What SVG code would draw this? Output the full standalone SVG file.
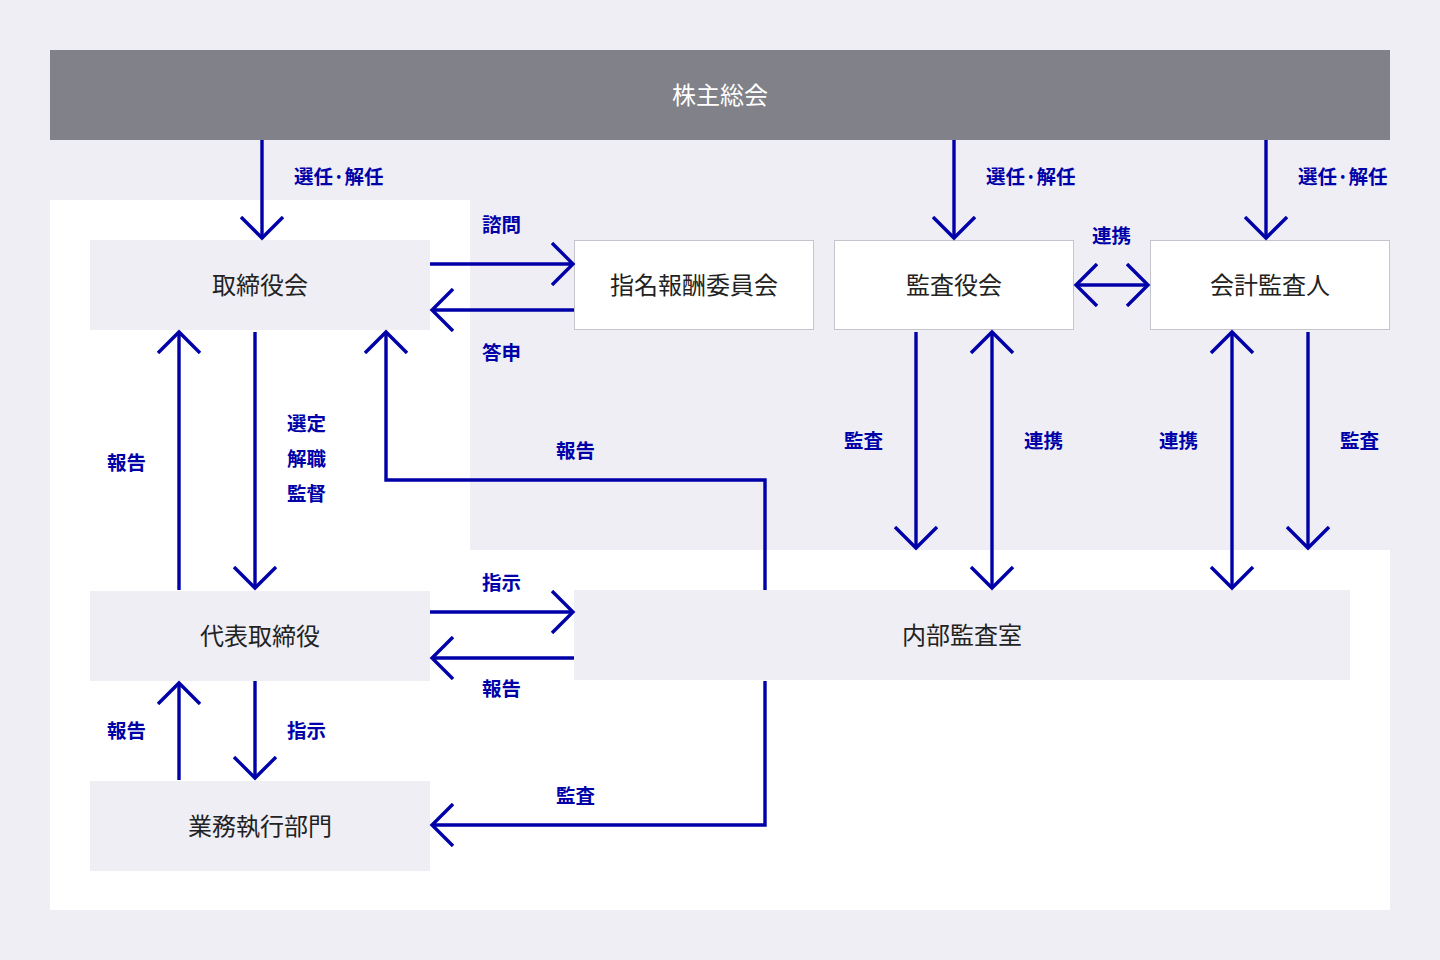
<svg xmlns="http://www.w3.org/2000/svg" width="1440" height="960" viewBox="0 0 1440 960">
<defs>
<style>
.bg{fill:#efeef5}
.node{fill:#efeef5}
.wnode{fill:#ffffff;stroke:#c4c4cc;stroke-width:1}
.nt{font-family:"Noto Sans CJK JP","Noto Sans",sans-serif;font-size:24px;fill:#222222;text-anchor:middle;dominant-baseline:central}
.lb{font-family:"Noto Sans CJK JP","Noto Sans",sans-serif;font-size:19.5px;font-weight:bold;fill:#0000a8}
.ln{fill:none;stroke:#0000a8;stroke-width:3.4}
</style>
<marker id="ah" viewBox="-22 -22 26 44" markerWidth="26" markerHeight="44" refX="0" refY="0" orient="auto-start-reverse" markerUnits="userSpaceOnUse">
<path d="M-21,-21 L0,0 L-21,21" fill="none" stroke="#0000a8" stroke-width="3.4"/>
</marker>
</defs>
<rect class="bg" x="0" y="0" width="1440" height="960"/>
<polygon points="50,200 470,200 470,550 1390,550 1390,910 50,910" fill="#ffffff"/>

<g id="top">
<rect x="50" y="50" width="1340" height="90" fill="#818189"/>
<text class="nt" x="720" y="93" style="fill:#ffffff">株主総会</text>
</g>
<g id="board">
<rect class="node" x="90" y="240" width="340" height="90"/>
<text class="nt" x="260" y="283">取締役会</text>
</g>
<g id="nomination">
<rect class="wnode" x="574.5" y="240.5" width="239" height="89"/>
<text class="nt" x="694" y="283">指名報酬委員会</text>
</g>
<g id="auditboard">
<rect class="wnode" x="834.5" y="240.5" width="239" height="89"/>
<text class="nt" x="954" y="283">監査役会</text>
</g>
<g id="accountant">
<rect class="wnode" x="1150.5" y="240.5" width="239" height="89"/>
<text class="nt" x="1270" y="283">会計監査人</text>
</g>
<g id="ceo">
<rect class="node" x="90" y="591" width="340" height="90"/>
<text class="nt" x="260" y="634">代表取締役</text>
</g>
<g id="internal">
<rect class="node" x="574" y="590" width="776" height="90"/>
<text class="nt" x="962" y="633">内部監査室</text>
</g>
<g id="business">
<rect class="node" x="90" y="781" width="340" height="90"/>
<text class="nt" x="260" y="824">業務執行部門</text>
</g>

<g id="connectors">
<path class="ln" d="M262,140 V238" marker-end="url(#ah)"/>
<path class="ln" d="M954,140 V238" marker-end="url(#ah)"/>
<path class="ln" d="M1266,140 V238" marker-end="url(#ah)"/>
<path class="ln" d="M430,264 H573" marker-end="url(#ah)"/>
<path class="ln" d="M574,310 H432" marker-end="url(#ah)"/>
<path class="ln" d="M1076,285 H1148" marker-start="url(#ah)" marker-end="url(#ah)"/>
<path class="ln" d="M179,590 V332" marker-end="url(#ah)"/>
<path class="ln" d="M255,332 V588" marker-end="url(#ah)"/>
<path class="ln" d="M765,590 V480 H386 V332" marker-end="url(#ah)"/>
<path class="ln" d="M916,332 V548" marker-end="url(#ah)"/>
<path class="ln" d="M992,332 V588" marker-start="url(#ah)" marker-end="url(#ah)"/>
<path class="ln" d="M1232,332 V588" marker-start="url(#ah)" marker-end="url(#ah)"/>
<path class="ln" d="M1308,332 V548" marker-end="url(#ah)"/>
<path class="ln" d="M430,612 H573" marker-end="url(#ah)"/>
<path class="ln" d="M574,658 H432" marker-end="url(#ah)"/>
<path class="ln" d="M179,780 V683" marker-end="url(#ah)"/>
<path class="ln" d="M255,681 V778" marker-end="url(#ah)"/>
<path class="ln" d="M765,681 V825 H432" marker-end="url(#ah)"/>
</g>

<g id="labels">
<text class="lb" x="294" y="184">選任·解任</text>
<text class="lb" x="986" y="184">選任·解任</text>
<text class="lb" x="1298" y="184">選任·解任</text>
<text class="lb" x="482" y="232">諮問</text>
<text class="lb" x="482" y="360">答申</text>
<text class="lb" x="1092" y="243">連携</text>
<text class="lb" x="107" y="470">報告</text>
<text class="lb" x="287" y="431">選定</text>
<text class="lb" x="287" y="466">解職</text>
<text class="lb" x="287" y="501">監督</text>
<text class="lb" x="556" y="458">報告</text>
<text class="lb" x="844" y="448">監査</text>
<text class="lb" x="1024" y="448">連携</text>
<text class="lb" x="1159" y="448">連携</text>
<text class="lb" x="1340" y="448">監査</text>
<text class="lb" x="482" y="590">指示</text>
<text class="lb" x="482" y="696">報告</text>
<text class="lb" x="107" y="738">報告</text>
<text class="lb" x="287" y="738">指示</text>
<text class="lb" x="556" y="803">監査</text>
</g>
</svg>
